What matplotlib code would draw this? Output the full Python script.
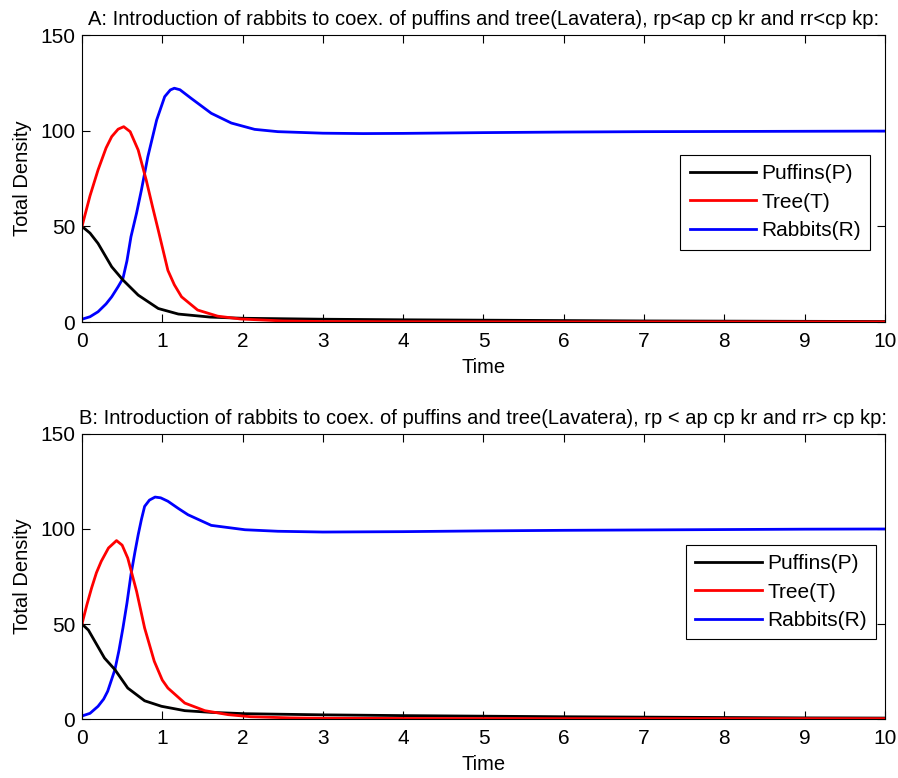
import matplotlib
matplotlib.use("Agg")
import matplotlib.pyplot as plt

plt.rcParams['font.family'] = ['Liberation Sans', 'DejaVu Sans']

# ---- panel A: rp<ap cp kr and rr<cp kp ----
tA_p = [0, 0.1, 0.2, 0.37, 0.51, 0.7, 0.95, 1.2, 1.6, 2.0, 3.0, 4.0, 5.0, 6.0, 7.0, 8.0, 9.0, 10.0]
puffA = [50, 46.5, 41.1, 28.9, 22.0, 14.1, 7.1, 4.2, 2.6, 2.0, 1.5, 1.2, 1.0, 0.8, 0.6, 0.5, 0.4, 0.3]
tA_t = [0, 0.1, 0.2, 0.3, 0.37, 0.45, 0.52, 0.6, 0.7, 0.8, 0.88, 0.95, 1.07, 1.15, 1.24, 1.44, 1.69, 1.98,
        2.5, 3.0, 4.0, 6.0, 8.0, 10.0]
treeA = [50, 66, 79.5, 91, 96.9, 100.8, 102.1, 99.5, 89.9, 74.2, 60, 48, 27, 19.5, 13.2, 6.3, 3.1, 1.6,
         0.6, 0.3, 0.2, 0.1, 0.1, 0.1]
tA_r = [0, 0.1, 0.2, 0.3, 0.37, 0.45, 0.51, 0.56, 0.61, 0.68, 0.74, 0.82, 0.93, 1.03, 1.1, 1.15, 1.22,
        1.36, 1.61, 1.86, 2.15, 2.44, 3.0, 3.5, 4.0, 5.0, 6.0, 7.0, 8.0, 9.0, 10.0]
rabA = [1.5, 2.8, 5.4, 9.5, 13.2, 18.5, 22.8, 32, 44.6, 57, 69, 86.4, 105.6, 117.8, 121.3, 122.2, 121.4,
        116.9, 109.1, 104, 100.7, 99.5, 98.7, 98.5, 98.6, 99.0, 99.3, 99.5, 99.6, 99.7, 99.8]

# ---- panel B: rp < ap cp kr and rr> cp kp ----
tB_p = [0, 0.08, 0.16, 0.28, 0.41, 0.57, 0.78, 0.99, 1.28, 1.61, 2.03, 3.0, 4.0, 5.0, 6.0, 7.0, 8.0, 9.0, 10.0]
puffB = [50, 46.8, 40.9, 32.1, 26.0, 16.3, 9.6, 6.7, 4.4, 3.5, 2.8, 2.2, 1.8, 1.5, 1.2, 1.0, 0.8, 0.6, 0.5]
tB_t = [0, 0.06, 0.12, 0.18, 0.24, 0.33, 0.43, 0.5, 0.57, 0.68, 0.78, 0.9, 1.0, 1.07, 1.28, 1.53, 1.82, 2.1,
        2.6, 3.0, 4.0, 6.0, 8.0, 10.0]
treeB = [50, 60, 69, 77, 83, 90, 93.9, 91.5, 84.7, 67.2, 47.9, 30.4, 20.5, 16.3, 8.4, 4.4, 2.3, 1.2,
         0.6, 0.4, 0.3, 0.2, 0.2, 0.2]
tB_r = [0, 0.1, 0.2, 0.27, 0.32, 0.41, 0.46, 0.51, 0.56, 0.61, 0.66, 0.7, 0.74, 0.78, 0.84, 0.91, 0.98,
        1.07, 1.2, 1.32, 1.61, 2.03, 2.44, 3.0, 4.0, 5.0, 6.0, 7.0, 8.0, 9.0, 10.0]
rabB = [1.6, 3.0, 6.7, 10.5, 14.6, 26, 36, 47.9, 61, 76, 88, 97, 105, 111.9, 115.2, 116.8, 116.4,
        114.6, 110.8, 107.5, 101.9, 99.6, 98.8, 98.4, 98.6, 99.0, 99.3, 99.5, 99.7, 99.9, 100.0]

titles = ["A: Introduction of rabbits to coex. of puffins and tree(Lavatera), rp<ap cp kr and rr<cp kp:",
          "B: Introduction of rabbits to coex. of puffins and tree(Lavatera), rp < ap cp kr and rr> cp kp:"]
labels = ["Puffins(P)", "Tree(T)", "Rabbits(R)"]

fig = plt.figure(figsize=(8.98, 7.78), dpi=100)
axA = fig.add_axes([0.0913, 0.586, 0.8942, 0.369])
axB = fig.add_axes([0.0913, 0.0758, 0.8942, 0.3664])

panels = [
    (axA, (tA_p, puffA), (tA_t, treeA), (tA_r, rabA), (0.745, 0.582)),
    (axB, (tB_p, puffB), (tB_t, treeB), (tB_r, rabB), (0.752, 0.611)),
]

fs = 14.5
for i, (ax, p, t, r, legpos) in enumerate(panels):
    ax.plot(*r, color='#0000ff', lw=2.0, label=labels[2])
    ax.plot(*p, color='black', lw=2.0, label=labels[0])
    ax.plot(*t, color='#ff0000', lw=2.0, label=labels[1])
    ax.set_xlim(0, 10)
    ax.set_ylim(0, 150)
    ax.set_xticks(range(0, 11))
    ax.set_yticks([0, 50, 100, 150])
    ax.tick_params(direction='in', top=True, right=True, length=6, labelsize=15, pad=5)
    ax.tick_params(axis='x', pad=7)
    ax.set_xlabel("Time", fontsize=fs, labelpad=5)
    ax.set_ylabel("Total Density", fontsize=fs, labelpad=6)
    ax.set_title(titles[i], fontsize=fs, pad=7)
    h, l = ax.get_legend_handles_labels()
    order = [1, 2, 0]
    ax.legend([h[k] for k in order], [l[k] for k in order], loc='upper left',
              bbox_to_anchor=legpos, fontsize=15, frameon=True, fancybox=False,
              edgecolor='black', framealpha=1, handlelength=3.2, handletextpad=0.25,
              borderpad=0.45, labelspacing=0.45, borderaxespad=0)
    ax.get_legend().get_frame().set_linewidth(0.8)

fig.savefig("out.png", dpi=100)
